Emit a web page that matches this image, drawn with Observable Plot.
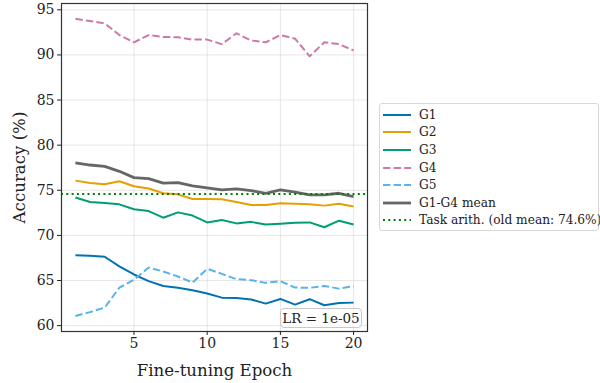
<!DOCTYPE html>
<html><head><meta charset="utf-8">
<script src="https://cdn.jsdelivr.net/npm/d3@7"></script>
<script src="https://cdn.jsdelivr.net/npm/@observablehq/plot@0.6"></script>
<style>
body{margin:0;background:#fff;}
#wrap{position:relative;width:600px;height:383px;font-family:"DejaVu Serif",serif;color:#222;}
#wrap svg{font-family:"DejaVu Serif",serif;}
#lr{position:absolute;left:280px;top:308px;width:82px;height:20px;box-sizing:border-box;border:1px solid #c8c8c8;border-radius:4px;background:rgba(255,255,255,0.85);font-size:13.5px;line-height:18px;text-align:center;color:#222;}
#legend{position:absolute;left:379px;top:103px;width:220px;height:128px;box-sizing:border-box;border:1px solid #d8d8d8;border-radius:3px;background:#fff;padding-top:2px;}
.item{display:flex;align-items:center;height:17.6px;font-size:12.2px;color:#222;white-space:nowrap;}
.item svg{margin-left:3px;margin-right:8px;flex:none;}
</style></head><body><div id="wrap"></div>
<script>
const epochs = [1,2,3,4,5,6,7,8,9,10,11,12,13,14,15,16,17,18,19,20];
const g1 = [67.8,67.74,67.63,66.56,65.67,64.93,64.4,64.2,63.93,63.56,63.1,63.07,62.9,62.44,62.96,62.33,62.93,62.26,62.5,62.55];
const g2 = [76.07,75.8,75.67,76.0,75.44,75.2,74.67,74.55,74.04,74.04,74.0,73.7,73.37,73.37,73.55,73.5,73.44,73.3,73.5,73.2];
const g3 = [74.2,73.7,73.6,73.44,72.9,72.7,71.96,72.55,72.2,71.44,71.7,71.33,71.5,71.2,71.3,71.4,71.44,70.9,71.63,71.2];
const g4 = [94.0,93.75,93.5,92.2,91.4,92.2,92.0,91.95,91.7,91.7,91.2,92.4,91.6,91.4,92.2,91.8,89.85,91.4,91.2,90.5];
const g5 = [61.07,61.5,62.0,64.2,65.07,66.44,66.0,65.44,64.78,66.3,65.74,65.15,65.04,64.74,64.93,64.22,64.19,64.4,64.1,64.37];
const gMean = [78.05,77.8,77.65,77.1,76.4,76.3,75.8,75.85,75.5,75.26,75.04,75.15,74.96,74.67,75.04,74.8,74.5,74.5,74.67,74.3];
const taskArithMean = 74.6;
const xTicks = [5,10,15,20];
const yTicks = [60,65,70,75,80,85,90,95];

const seriesNames = ["G1","G2","G3","G4","G5","G1-G4 mean"];
const seriesValues = [g1,g2,g3,g4,g5,gMean];
const styles = {
  "G1": {stroke:"#0072B2", width:2, dash:null},
  "G2": {stroke:"#E69F00", width:2, dash:null},
  "G3": {stroke:"#009E73", width:2, dash:null},
  "G4": {stroke:"#CC79A7", width:2, dash:"7.4,3.2"},
  "G5": {stroke:"#56B4E9", width:2, dash:"7.4,3.2"},
  "G1-G4 mean": {stroke:"#666666", width:2.8, dash:null}
};
const rows = [];
seriesNames.forEach((s,i)=>epochs.forEach((e,j)=>rows.push({series:s, epoch:e, value:seriesValues[i][j]})));

const lineMarks = seriesNames.map(s => Plot.line(rows.filter(r=>r.series===s), {
  x:"epoch", y:"value", stroke: styles[s].stroke, strokeWidth: styles[s].width,
  strokeDasharray: styles[s].dash ?? undefined, strokeLinejoin:"round", strokeLinecap:"butt"
}));

const chart = Plot.plot({
  width:600, height:383,
  marginLeft:61, marginRight:233, marginTop:3, marginBottom:52,
  style:{fontFamily:"DejaVu Serif, serif", fontSize:"14px", color:"#222", background:"transparent"},
  x:{domain:[0.05,20.95]},
  y:{domain:[59.35,95.7]},
  marks:[
    Plot.gridX(xTicks, {stroke:"#b0b0b0", strokeOpacity:0.3, strokeWidth:1}),
    Plot.gridY(yTicks, {stroke:"#b0b0b0", strokeOpacity:0.3, strokeWidth:1}),
    ...lineMarks,
    Plot.ruleY([taskArithMean], {stroke:"green", strokeWidth:2, strokeDasharray:"2,3.3"}),
    Plot.frame({stroke:"#333", strokeWidth:1.2}),
    Plot.axisX(xTicks, {tickSize:4, tickPadding:3, fontSize:14, label:"Fine-tuning Epoch", labelAnchor:"center", labelArrow:"none", labelOffset:44}),
    Plot.axisY(yTicks, {tickSize:4, tickPadding:3, fontSize:14, label:"Accuracy (%)", labelAnchor:"center", labelArrow:"none", labelOffset:48})
  ]
});
const wrap = document.getElementById("wrap");
wrap.appendChild(chart);
chart.querySelectorAll("g[aria-label='x-axis label'] text, g[aria-label='y-axis label'] text").forEach(t=>{t.style.fontSize="16.6px";});

const lr = document.createElement("div");
lr.id = "lr"; lr.textContent = "LR = 1e-05";
wrap.appendChild(lr);

const legendItems = [...seriesNames.map(s=>({label:s, ...styles[s]})),
  {label:`Task arith. (old mean: ${taskArithMean}%)`, stroke:"green", width:2, dash:"2,3.3"}];
const legend = document.createElement("div");
legend.id = "legend";
legendItems.forEach(it=>{
  const d = document.createElement("div"); d.className="item";
  d.innerHTML = `<svg width="28" height="8"><line x1="0" x2="28" y1="4" y2="4" stroke="${it.stroke}" stroke-width="${it.width}" ${it.dash?`stroke-dasharray="${it.dash}"`:""}/></svg><span>${it.label}</span>`;
  legend.appendChild(d);
});
wrap.appendChild(legend);
</script></body></html>
